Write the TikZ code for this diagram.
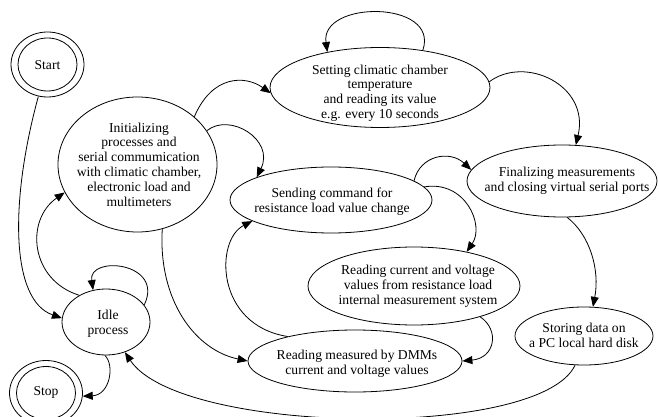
\documentclass[tikz,border=0pt]{standalone}
\usepackage{fontspec}
\setmainfont{Liberation Serif}
\usetikzlibrary{shapes.geometric,arrows.meta}
\begin{document}
\begin{tikzpicture}[x=1pt,y=-1pt,
  st/.style={ellipse,draw,line width=0.8pt,inner sep=0pt},
  lbl/.style={align=center,inner sep=0pt,font=\fontsize{13.6}{14.8}\selectfont},
  arr/.style={line width=0.8pt,-{Triangle[length=10pt,width=8pt]}}]
\useasboundingbox (0,0) rectangle (659,417);
\clip (0,0) rectangle (659,417);
% states
\node[st,minimum width=73,minimum height=65] (start) at (47.5,64.5) {};
\node[st,minimum width=59,minimum height=53] (startin) at (47.5,64.5) {};
\node[lbl] (startT) at (47.5,65) {Start};
\node[st,minimum width=73,minimum height=65] (stop) at (46,393) {};
\node[st,minimum width=59,minimum height=53] (stopin) at (46,393) {};
\node[lbl] (stopT) at (46,392) {Stop};
\node[st,minimum width=159,minimum height=135] (init) at (137.5,164.5) {};
\node[lbl] (initT) at (139,164.5) {Initializing\\processes and\\serial commumication\\with climatic chamber,\\electronic load and\\multimeters};
\node[st,minimum width=220,minimum height=80] (set) at (380,87.5) {};
\node[lbl] (setT) at (380,93) {Setting climatic chamber\\temperature\\and reading its value\\e.g. every 10 seconds};
\node[st,minimum width=190,minimum height=72] (fin) at (562,181) {};
\node[lbl] (finT) at (567,181) {Finalizing measurements\\and closing virtual serial ports};
\node[st,minimum width=202,minimum height=66] (send) at (331,200) {};
\node[lbl] (sendT) at (332,201.5) {Sending command for\\resistance load value change};
\node[st,minimum width=212,minimum height=78] (int) at (414,286) {};
\node[lbl] (intT) at (418,286) {Reading current and voltage\\values from resistance load\\internal measurement system};
\node[st,minimum width=214,minimum height=62] (dmm) at (355,361) {};
\node[lbl] (dmmT) at (357,363.5) {Reading measured by DMMs\\current and voltage values};
\node[st,minimum width=138,minimum height=58] (sto) at (584,336) {};
\node[lbl] (stoT) at (584,335.5) {Storing data on\\a PC local hard disk};
\node[st,minimum width=88,minimum height=66] (idle) at (106,322) {};
\node[lbl] (idleT) at (108,323.5) {Idle\\process};
% transitions
\draw[arr] (start.254) .. controls (10,200) and (10,300) .. (idle.175);
\draw[arr] (idle.135) .. controls (30,280) and (25,220) .. (init.201);
\draw[arr] (idle.24) .. controls (165,262) and (88,255) .. (idle.112);
\draw[arr] (idle.268) .. controls (115,365) and (110,395) .. (stop.355);
\draw[arr] (sto.253) .. controls (540,440) and (180,435) .. (idle.302);
\draw[arr] (init.40) .. controls (212,75) and (245,75) .. (set.183);
\draw[arr] (init.26) .. controls (230,112) and (275,140) .. (send.163);
\draw[arr] (init.291) .. controls (158,300) and (195,350) .. (dmm.180);
\draw[arr] (set.3.6) .. controls (525,55) and (590,85) .. (fin.69);
\draw[arr] (set.41.4) .. controls (440,0) and (320,0) .. (set.146.6);
\draw[arr] (send.13.7) .. controls (420,155) and (450,150) .. (fin.173);
\draw[arr] (send.8) .. controls (465,180) and (485,225) .. (int.33.7);
\draw[arr] (int.335) .. controls (500,330) and (495,358) .. (dmm.0);
\draw[arr] (dmm.160.6) .. controls (215,325) and (215,240) .. (send.195);
\draw[arr] (fin.278) .. controls (590,235) and (600,270) .. (sto.73);
\end{tikzpicture}
\end{document}
